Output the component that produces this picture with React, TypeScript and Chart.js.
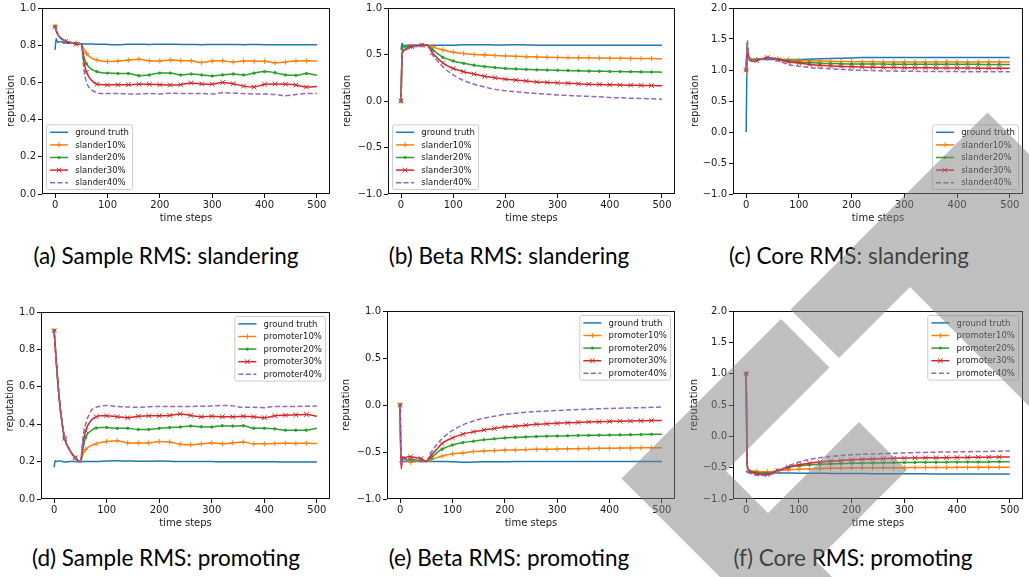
import React, { useEffect, useRef } from 'react';
import { Chart, registerables } from 'chart.js';

Chart.register(...registerables);

// ---------------- data ----------------
const X = [0, 2, 5, 10, 15, 20, 30, 40, 50, 55, 60, 70, 80, 90, 100, 120, 140, 160, 180, 200, 220, 240, 260, 280, 300, 320, 340, 360, 380, 400, 420, 440, 460, 480, 500];
const X_TICKS = [0, 100, 200, 300, 400, 500];
const Y_TICKS_SAMPLE = [0, 0.2, 0.4, 0.6, 0.8, 1.0];
const Y_TICKS_BETA = [-1, -0.5, 0, 0.5, 1];
const Y_TICKS_CORE = [-1, -0.5, 0, 0.5, 1, 1.5, 2];

const LABELS_SLANDER = ['ground truth', 'slander10%', 'slander20%', 'slander30%', 'slander40%'];
const LABELS_PROMOTE = ['ground truth', 'promoter10%', 'promoter20%', 'promoter30%', 'promoter40%'];

// (a) Sample RMS: slandering
const A_GT = [0.775, 0.835, 0.815, 0.82, 0.815, 0.812, 0.81, 0.81, 0.808, 0.807, 0.806, 0.806, 0.805, 0.805, 0.804, 0.803, 0.805, 0.805, 0.804, 0.805, 0.805, 0.804, 0.804, 0.803, 0.804, 0.804, 0.804, 0.803, 0.804, 0.803, 0.803, 0.803, 0.803, 0.803, 0.802];
const A_S10 = [0.9, 0.88, 0.86, 0.84, 0.83, 0.82, 0.815, 0.81, 0.805, 0.78, 0.755, 0.73, 0.72, 0.715, 0.712, 0.715, 0.72, 0.725, 0.716, 0.715, 0.72, 0.717, 0.716, 0.707, 0.715, 0.716, 0.71, 0.715, 0.714, 0.714, 0.705, 0.71, 0.715, 0.716, 0.715];
const A_S20 = [0.9, 0.88, 0.86, 0.84, 0.83, 0.82, 0.815, 0.81, 0.805, 0.74, 0.7, 0.67, 0.658, 0.652, 0.65, 0.648, 0.648, 0.636, 0.64, 0.65, 0.65, 0.64, 0.645, 0.64, 0.635, 0.64, 0.645, 0.64, 0.65, 0.658, 0.652, 0.64, 0.638, 0.648, 0.638];
const A_S30 = [0.9, 0.88, 0.86, 0.84, 0.83, 0.82, 0.815, 0.805, 0.805, 0.71, 0.655, 0.61, 0.59, 0.588, 0.586, 0.588, 0.588, 0.59, 0.59, 0.588, 0.586, 0.588, 0.597, 0.592, 0.59, 0.6, 0.593, 0.58, 0.575, 0.59, 0.592, 0.59, 0.586, 0.575, 0.578];
const A_S40 = [0.9, 0.88, 0.86, 0.84, 0.83, 0.82, 0.815, 0.81, 0.805, 0.67, 0.6, 0.56, 0.545, 0.54, 0.54, 0.54, 0.538, 0.538, 0.541, 0.538, 0.542, 0.54, 0.54, 0.54, 0.537, 0.545, 0.542, 0.54, 0.538, 0.538, 0.535, 0.528, 0.535, 0.54, 0.54];

// (b) Beta RMS: slandering
const B_GT = [0.55, 0.62, 0.58, 0.6, 0.6, 0.6, 0.6, 0.6, 0.6, 0.6, 0.6, 0.6, 0.6, 0.6, 0.6, 0.605, 0.605, 0.605, 0.603, 0.603, 0.605, 0.603, 0.6, 0.6, 0.6, 0.6, 0.6, 0.6, 0.6, 0.6, 0.6, 0.6, 0.6, 0.6, 0.6];
const B_S10 = [0.0, 0.5, 0.55, 0.57, 0.58, 0.585, 0.595, 0.6, 0.6, 0.595, 0.585, 0.565, 0.55, 0.535, 0.525, 0.51, 0.5, 0.495, 0.49, 0.485, 0.48, 0.477, 0.473, 0.47, 0.468, 0.466, 0.465, 0.464, 0.462, 0.46, 0.46, 0.458, 0.457, 0.456, 0.455];
const B_S20 = [0.0, 0.5, 0.6, 0.58, 0.585, 0.59, 0.6, 0.6, 0.6, 0.585, 0.555, 0.51, 0.47, 0.45, 0.43, 0.405, 0.385, 0.37, 0.36, 0.35, 0.345, 0.34, 0.335, 0.332, 0.33, 0.327, 0.325, 0.322, 0.32, 0.318, 0.316, 0.315, 0.313, 0.312, 0.31];
const B_S30 = [0.0, 0.5, 0.54, 0.56, 0.575, 0.585, 0.595, 0.6, 0.6, 0.57, 0.52, 0.46, 0.41, 0.375, 0.35, 0.315, 0.29, 0.265, 0.25, 0.235, 0.225, 0.215, 0.205, 0.2, 0.195, 0.19, 0.185, 0.18, 0.178, 0.175, 0.172, 0.17, 0.168, 0.166, 0.165];
const B_S40 = [0.0, 0.48, 0.53, 0.55, 0.565, 0.575, 0.585, 0.59, 0.59, 0.56, 0.5, 0.43, 0.37, 0.32, 0.28, 0.22, 0.18, 0.15, 0.125, 0.11, 0.1, 0.09, 0.08, 0.072, 0.065, 0.06, 0.055, 0.05, 0.045, 0.038, 0.035, 0.03, 0.027, 0.023, 0.02];

// (c) Core RMS: slandering
const C_GT = [0.0, 1.25, 1.2, 1.18, 1.17, 1.17, 1.17, 1.17, 1.17, 1.17, 1.17, 1.17, 1.17, 1.17, 1.17, 1.175, 1.18, 1.185, 1.19, 1.195, 1.2, 1.2, 1.2, 1.2, 1.2, 1.2, 1.2, 1.2, 1.2, 1.2, 1.2, 1.2, 1.2, 1.2, 1.2];
const C_S10 = [1.0, 1.4, 1.22, 1.18, 1.17, 1.17, 1.18, 1.19, 1.19, 1.185, 1.18, 1.17, 1.165, 1.16, 1.155, 1.15, 1.145, 1.14, 1.138, 1.135, 1.133, 1.132, 1.131, 1.13, 1.13, 1.13, 1.13, 1.13, 1.13, 1.13, 1.13, 1.13, 1.13, 1.13, 1.13];
const C_S20 = [1.0, 1.38, 1.2, 1.16, 1.16, 1.165, 1.18, 1.19, 1.185, 1.18, 1.17, 1.16, 1.15, 1.14, 1.13, 1.12, 1.11, 1.105, 1.1, 1.098, 1.096, 1.095, 1.095, 1.094, 1.094, 1.093, 1.093, 1.092, 1.092, 1.092, 1.091, 1.091, 1.09, 1.09, 1.09];
const C_S30 = [1.0, 1.35, 1.18, 1.14, 1.14, 1.15, 1.18, 1.2, 1.19, 1.18, 1.165, 1.15, 1.13, 1.12, 1.11, 1.09, 1.075, 1.065, 1.058, 1.052, 1.048, 1.045, 1.042, 1.04, 1.038, 1.036, 1.035, 1.034, 1.033, 1.032, 1.031, 1.03, 1.03, 1.03, 1.03];
const C_S40 = [1.0, 1.48, 1.2, 1.15, 1.15, 1.16, 1.18, 1.19, 1.18, 1.17, 1.15, 1.12, 1.09, 1.07, 1.06, 1.04, 1.03, 1.02, 1.01, 1.0, 0.995, 0.99, 0.985, 0.982, 0.98, 0.978, 0.977, 0.976, 0.975, 0.974, 0.973, 0.972, 0.972, 0.971, 0.97];

// (d) Sample RMS: promoting
const D_GT = [0.17, 0.205, 0.2, 0.205, 0.2, 0.198, 0.2, 0.2, 0.198, 0.2, 0.2, 0.2, 0.2, 0.202, 0.203, 0.204, 0.203, 0.202, 0.202, 0.203, 0.202, 0.2, 0.2, 0.2, 0.2, 0.199, 0.199, 0.199, 0.199, 0.199, 0.199, 0.198, 0.198, 0.198, 0.198];
const D_P10 = [0.9, 0.82, 0.7, 0.53, 0.41, 0.325, 0.26, 0.22, 0.2, 0.24, 0.265, 0.285, 0.295, 0.303, 0.308, 0.312, 0.3, 0.3, 0.3, 0.307, 0.305, 0.293, 0.29, 0.295, 0.3, 0.295, 0.3, 0.305, 0.295, 0.295, 0.297, 0.298, 0.297, 0.298, 0.297];
const D_P20 = [0.9, 0.82, 0.7, 0.53, 0.41, 0.325, 0.26, 0.22, 0.2, 0.27, 0.33, 0.365, 0.38, 0.382, 0.382, 0.378, 0.378, 0.372, 0.372, 0.378, 0.382, 0.385, 0.39, 0.386, 0.385, 0.392, 0.39, 0.392, 0.378, 0.378, 0.375, 0.368, 0.368, 0.368, 0.378];
const D_P30 = [0.9, 0.82, 0.7, 0.53, 0.41, 0.325, 0.26, 0.22, 0.2, 0.3, 0.365, 0.42, 0.44, 0.445, 0.445, 0.44, 0.435, 0.442, 0.445, 0.445, 0.447, 0.455, 0.447, 0.44, 0.442, 0.44, 0.44, 0.442, 0.44, 0.435, 0.445, 0.448, 0.45, 0.452, 0.442];
const D_P40 = [0.9, 0.82, 0.7, 0.53, 0.41, 0.325, 0.26, 0.22, 0.2, 0.33, 0.4, 0.47, 0.49, 0.497, 0.5, 0.495, 0.492, 0.49, 0.493, 0.495, 0.495, 0.495, 0.495, 0.496, 0.497, 0.5, 0.498, 0.49, 0.49, 0.488, 0.495, 0.495, 0.495, 0.496, 0.497];

// (e) Beta RMS: promoting
const E_GT = [-0.62, -0.58, -0.6, -0.6, -0.6, -0.6, -0.6, -0.6, -0.6, -0.6, -0.6, -0.6, -0.6, -0.6, -0.605, -0.61, -0.607, -0.605, -0.604, -0.603, -0.602, -0.602, -0.601, -0.6, -0.6, -0.6, -0.6, -0.6, -0.6, -0.6, -0.6, -0.6, -0.6, -0.6, -0.6];
const E_P10 = [0.0, -0.65, -0.57, -0.58, -0.6, -0.61, -0.6, -0.59, -0.6, -0.595, -0.58, -0.56, -0.545, -0.53, -0.52, -0.51, -0.495, -0.49, -0.485, -0.48, -0.478, -0.475, -0.472, -0.47, -0.468, -0.466, -0.465, -0.463, -0.461, -0.46, -0.458, -0.457, -0.456, -0.455, -0.455];
const E_P20 = [0.0, -0.62, -0.57, -0.57, -0.58, -0.58, -0.585, -0.59, -0.6, -0.58, -0.56, -0.51, -0.47, -0.445, -0.425, -0.4, -0.385, -0.37, -0.36, -0.35, -0.345, -0.34, -0.335, -0.332, -0.33, -0.327, -0.325, -0.323, -0.321, -0.32, -0.318, -0.316, -0.314, -0.312, -0.31];
const E_P30 = [0.0, -0.68, -0.55, -0.56, -0.55, -0.55, -0.56, -0.57, -0.6, -0.57, -0.53, -0.47, -0.41, -0.375, -0.35, -0.31, -0.285, -0.265, -0.25, -0.235, -0.225, -0.215, -0.205, -0.2, -0.195, -0.19, -0.185, -0.18, -0.178, -0.175, -0.172, -0.17, -0.168, -0.166, -0.165];
const E_P40 = [0.0, -0.64, -0.58, -0.58, -0.585, -0.59, -0.595, -0.6, -0.6, -0.55, -0.5, -0.42, -0.36, -0.31, -0.27, -0.21, -0.17, -0.14, -0.12, -0.1, -0.088, -0.078, -0.07, -0.064, -0.058, -0.053, -0.048, -0.044, -0.04, -0.037, -0.034, -0.031, -0.028, -0.025, -0.022];

// (f) Core RMS: promoting
const F_GT = [-0.55, -0.57, -0.58, -0.58, -0.58, -0.585, -0.585, -0.585, -0.585, -0.585, -0.585, -0.585, -0.585, -0.587, -0.588, -0.59, -0.59, -0.592, -0.593, -0.594, -0.595, -0.596, -0.597, -0.598, -0.598, -0.599, -0.599, -0.6, -0.6, -0.6, -0.6, -0.6, -0.6, -0.6, -0.6];
const F_P10 = [1.0, -0.45, -0.53, -0.55, -0.555, -0.56, -0.565, -0.565, -0.56, -0.555, -0.55, -0.54, -0.535, -0.53, -0.525, -0.52, -0.515, -0.51, -0.508, -0.505, -0.503, -0.502, -0.501, -0.5, -0.5, -0.498, -0.497, -0.496, -0.496, -0.495, -0.495, -0.495, -0.495, -0.495, -0.495];
const F_P20 = [1.0, -0.45, -0.54, -0.56, -0.57, -0.58, -0.585, -0.59, -0.575, -0.56, -0.545, -0.52, -0.495, -0.48, -0.47, -0.455, -0.445, -0.44, -0.435, -0.43, -0.428, -0.425, -0.423, -0.42, -0.418, -0.416, -0.415, -0.413, -0.412, -0.411, -0.41, -0.409, -0.408, -0.406, -0.405];
const F_P30 = [1.0, -0.45, -0.55, -0.57, -0.585, -0.6, -0.61, -0.61, -0.585, -0.565, -0.55, -0.52, -0.49, -0.47, -0.455, -0.43, -0.41, -0.395, -0.385, -0.375, -0.367, -0.36, -0.355, -0.35, -0.347, -0.345, -0.343, -0.341, -0.34, -0.338, -0.336, -0.334, -0.332, -0.33, -0.328];
const F_P40 = [1.0, -0.5, -0.58, -0.6, -0.61, -0.62, -0.625, -0.62, -0.6, -0.58, -0.56, -0.51, -0.47, -0.44, -0.41, -0.37, -0.34, -0.32, -0.305, -0.295, -0.287, -0.28, -0.275, -0.27, -0.265, -0.26, -0.256, -0.252, -0.25, -0.248, -0.245, -0.242, -0.24, -0.237, -0.232];

const CAPTIONS = [
  '(a) Sample RMS: slandering',
  '(b) Beta RMS: slandering',
  '(c) Core RMS: slandering',
  '(d) Sample RMS: promoting',
  '(e) Beta RMS: promoting',
  '(f) Core RMS: promoting',
];

// ---------------- styles ----------------
const COLORS = ['#1f77b4', '#ff7f0e', '#2ca02c', '#d62728', '#9467bd'];
const MARKERS: (string | null)[] = [null, 'cross', 'circle', 'crossRot', null];
const RADII = [0, 2.6, 1.2, 3.3, 0];
const TICK_FONT = { family: 'DejaVu Sans', size: 10 };
const TXT = '#1a1a1a';

type Loc = 'lower left' | 'lower right' | 'upper right';

interface PanelCfg {
  series: number[][];
  labels: string[];
  yTicks: number[];
  loc: Loc;
  plot: [number, number, number, number]; // left, top, right, bottom (page px)
  yLabelX: number;
}

const PANELS: PanelCfg[] = [
  { series: [A_GT, A_S10, A_S20, A_S30, A_S40], labels: LABELS_SLANDER, yTicks: Y_TICKS_SAMPLE, loc: 'lower left', plot: [42, 7, 330, 194], yLabelX: 11 },
  { series: [B_GT, B_S10, B_S20, B_S30, B_S40], labels: LABELS_SLANDER, yTicks: Y_TICKS_BETA, loc: 'lower left', plot: [388, 7, 675, 194], yLabelX: 347 },
  { series: [C_GT, C_S10, C_S20, C_S30, C_S40], labels: LABELS_SLANDER, yTicks: Y_TICKS_CORE, loc: 'lower right', plot: [733, 7, 1023, 194], yLabelX: 695 },
  { series: [D_GT, D_P10, D_P20, D_P30, D_P40], labels: LABELS_PROMOTE, yTicks: Y_TICKS_SAMPLE, loc: 'upper right', plot: [41, 311, 330, 499], yLabelX: 10 },
  { series: [E_GT, E_P10, E_P20, E_P30, E_P40], labels: LABELS_PROMOTE, yTicks: Y_TICKS_BETA, loc: 'upper right', plot: [387, 310, 675, 499], yLabelX: 346 },
  { series: [F_GT, F_P10, F_P20, F_P30, F_P40], labels: LABELS_PROMOTE, yTicks: Y_TICKS_CORE, loc: 'upper right', plot: [733, 310, 1023, 499], yLabelX: 694 },
];

const CAPTION_POS = [
  [166, 256], [509, 256], [849, 256],
  [166, 558], [509, 558], [853, 558],
];

const isMarked = (x: number) => x % 20 === 0 && x <= 480;

const fmtY = (v: number) => {
  const s = Math.abs(v).toFixed(1);
  return v < -1e-9 ? '\u2212' + s : s;
};

function drawMarker(ctx: CanvasRenderingContext2D, style: string | null, x: number, y: number, r: number, color: string) {
  if (!style) return;
  ctx.save();
  ctx.setLineDash([]);
  ctx.strokeStyle = color;
  ctx.fillStyle = color;
  ctx.lineWidth = 1;
  ctx.beginPath();
  if (style === 'cross') {
    ctx.moveTo(x - r, y); ctx.lineTo(x + r, y);
    ctx.moveTo(x, y - r); ctx.lineTo(x, y + r);
    ctx.stroke();
  } else if (style === 'crossRot') {
    const d = r * Math.SQRT1_2;
    ctx.moveTo(x - d, y - d); ctx.lineTo(x + d, y + d);
    ctx.moveTo(x - d, y + d); ctx.lineTo(x + d, y - d);
    ctx.stroke();
  } else {
    ctx.arc(x, y, r + 0.4, 0, Math.PI * 2);
    ctx.fill();
  }
  ctx.restore();
}

const frameLegendPlugin = {
  id: 'frameLegend',
  afterDatasetsDraw(chart: any, _args: any, opts: any) {
    const { ctx, chartArea: a } = chart;
    ctx.save();
    // axes frame
    ctx.strokeStyle = '#111';
    ctx.lineWidth = 1;
    const l = Math.round(a.left) + 0.5, t = Math.round(a.top) + 0.5;
    const r = Math.round(a.right) - 0.5, b = Math.round(a.bottom) - 0.5;
    ctx.strokeRect(l, t, r - l, b - t);

    // legend
    const labels: string[] = opts.labels;
    const loc: Loc = opts.loc;
    const fs = 8.5;
    ctx.font = `${fs}px "DejaVu Sans"`;
    const pad = 3.6, handle = 18, gap = 7.2, rowH = 12.6;
    const tw = Math.max(...labels.map((s) => ctx.measureText(s).width));
    const w = pad + handle + gap + tw + pad;
    const h = rowH * labels.length + 1.6;
    const off = 4.5;
    const x0 = loc.indexOf('left') >= 0 ? a.left + off : a.right - off - w;
    const y0 = loc.indexOf('upper') >= 0 ? a.top + off : a.bottom - off - h;
    ctx.beginPath();
    if ((ctx as any).roundRect) (ctx as any).roundRect(x0, y0, w, h, 2);
    else ctx.rect(x0, y0, w, h);
    ctx.fillStyle = 'rgba(255,255,255,0.8)';
    ctx.fill();
    ctx.strokeStyle = '#cccccc';
    ctx.lineWidth = 1;
    ctx.stroke();
    labels.forEach((lab, i) => {
      const cy = y0 + 7.4 + i * rowH;
      ctx.save();
      ctx.strokeStyle = COLORS[i];
      ctx.lineWidth = 1.5;
      ctx.setLineDash(i === 4 ? [5, 2.5] : []);
      ctx.beginPath();
      ctx.moveTo(x0 + pad, cy);
      ctx.lineTo(x0 + pad + handle, cy);
      ctx.stroke();
      ctx.restore();
      drawMarker(ctx, MARKERS[i], x0 + pad + handle / 2, cy, RADII[i], COLORS[i]);
      ctx.fillStyle = TXT;
      ctx.textBaseline = 'middle';
      ctx.textAlign = 'left';
      ctx.fillText(lab, x0 + pad + handle + gap, cy + 0.5);
    });
    ctx.restore();
  },
};

function Panel({ cfg }: { cfg: PanelCfg }) {
  const ref = useRef<HTMLCanvasElement | null>(null);
  const [pl, pt, pr, pb] = cfg.plot;
  const cLeft = cfg.yLabelX - 6;
  const cTop = pt - 7;
  const cRight = pr + 8;
  const cBottom = pb + 30;
  const W = cRight - cLeft;
  const H = cBottom - cTop;

  useEffect(() => {
    if (!ref.current) return;
    const yMin = cfg.yTicks[0];
    const yMax = cfg.yTicks[cfg.yTicks.length - 1];
    const chart = new Chart(ref.current, {
      type: 'line',
      data: {
        datasets: cfg.series.map((vals, i) => ({
          label: cfg.labels[i],
          data: vals.map((v, j) => ({ x: X[j], y: v })),
          borderColor: COLORS[i],
          backgroundColor: COLORS[i],
          borderWidth: 1.5,
          borderDash: i === 4 ? [5, 2.5] : [],
          pointStyle: (MARKERS[i] || 'circle') as any,
          pointRadius: (c: any) => (MARKERS[i] && isMarked(X[c.dataIndex]) ? RADII[i] : 0),
          pointHoverRadius: 0,
          pointBorderWidth: 1,
          pointBackgroundColor: COLORS[i],
          pointBorderColor: COLORS[i],
          cubicInterpolationMode: 'monotone' as const,
          fill: false,
          order: 5 - i,
        })),
      },
      options: {
        responsive: false,
        animation: false,
        events: [],
        layout: { padding: { left: 0, top: 7, right: 8, bottom: 0 } },
        plugins: {
          legend: { display: false },
          tooltip: { enabled: false },
          frameLegend: { labels: cfg.labels, loc: cfg.loc },
        } as any,
        scales: {
          x: {
            type: 'linear',
            min: -25,
            max: 525,
            afterBuildTicks: (s: any) => { s.ticks = X_TICKS.map((v) => ({ value: v })); },
            afterFit: (s: any) => { s.height = 30; },
            grid: { display: true, drawOnChartArea: false, drawTicks: true, tickLength: 4, color: '#111', lineWidth: 1 },
            border: { display: false },
            ticks: { font: TICK_FONT, color: TXT, padding: 1, maxRotation: 0, autoSkip: false, callback: (v: any) => String(v) },
            title: { display: true, text: 'time steps', font: TICK_FONT, color: TXT, padding: 0 },
          },
          y: {
            type: 'linear',
            min: yMin,
            max: yMax,
            afterBuildTicks: (s: any) => { s.ticks = cfg.yTicks.map((v) => ({ value: v })); },
            afterFit: (s: any) => { s.width = pl - cLeft; },
            grid: { display: true, drawOnChartArea: false, drawTicks: true, tickLength: 4, color: '#111', lineWidth: 1 },
            border: { display: false },
            ticks: { font: TICK_FONT, color: TXT, padding: 2, autoSkip: false, callback: (v: any) => fmtY(Number(v)) },
            title: { display: true, text: 'reputation', font: TICK_FONT, color: TXT, padding: 0 },
          },
        },
      } as any,
      plugins: [frameLegendPlugin],
    });
    return () => chart.destroy();
  }, []);

  return (
    <canvas
      ref={ref}
      width={W}
      height={H}
      style={{ position: 'absolute', left: cLeft, top: cTop, width: W, height: H }}
    />
  );
}

// watermark polygons (page coordinates)
const WATERMARK = [
  'M987.5,112.5 L1250,375 L1250,627 L910,287 L839,358 L790.5,309.5 Z',
  'M781,319 L829.5,367.5 L726,471 L768,513 L859,422 L907,470 L816,561 L900,645 L788,645 L621.5,478.5 Z',
];

export default function App() {
  return (
    <div style={{ position: 'absolute', left: 0, top: 0, width: 1029, height: 577, overflow: 'hidden', background: '#fff' }}>
      {PANELS.map((p, i) => <Panel key={i} cfg={p} />)}
      {CAPTIONS.map((c, i) => (
        <div
          key={'c' + i}
          style={{
            position: 'absolute',
            left: CAPTION_POS[i][0] - 200,
            top: CAPTION_POS[i][1] - 14,
            width: 400,
            height: 28,
            lineHeight: '28px',
            textAlign: 'center',
            fontFamily: 'Lato, sans-serif',
            fontSize: 22.5,
            color: '#000',
            whiteSpace: 'nowrap',
          }}
        >
          {c}
        </div>
      ))}
      <svg width={1029} height={577} style={{ position: 'absolute', left: 0, top: 0, pointerEvents: 'none' }}>
        <g opacity={0.5} fill="#808080">
          {WATERMARK.map((d, i) => <path key={i} d={d} />)}
        </g>
      </svg>
    </div>
  );
}
